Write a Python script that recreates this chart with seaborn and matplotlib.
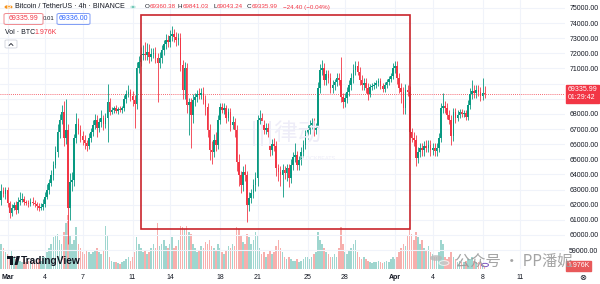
import numpy as np
import pandas as pd
import matplotlib
matplotlib.use("Agg")
import matplotlib.pyplot as plt
import matplotlib.transforms as mtrans
from matplotlib.patches import Rectangle, FancyBboxPatch, Circle, Polygon
from matplotlib.lines import Line2D
import seaborn as sns

# ---------------- data (BTC/USDT 4h) ----------------
first_open = 62300.0
closes_feb29_mar06 = [62900, 62700, 62950,
    62110, 61450, 61780, 61980, 61650, 62180,
    62310, 62380, 62180, 62110, 62050, 62180,
    62110, 62050, 61910, 61780, 61850, 62050,
    62510, 62970, 63430, 63960, 64620, 65480,
    66800, 67600, 68130, 66410, 66940, 61780,
    63500, 63630, 66400, 67330, 66940, 66540]
closes_mar07_mar13 = [66275, 66080, 65880, 66410, 66800, 67270,
    67600, 67070, 67460, 67730, 67330, 67730,
    68780, 68120, 68260, 68390, 68190, 68320,
    68260, 68390, 68980, 69310, 69450, 69180,
    68920, 68650, 71030, 71430, 71890, 71960,
    71890, 72090, 71760, 71960, 72020, 71690,
    71360, 71690, 72220, 72610, 72880, 72750]
closes_mar14_mar20 = [73140, 73280, 73080, 72880, 73010, 71230,
    69580, 71030, 68590, 68780, 67930, 68920,
    69110, 69310, 69250, 69380, 68920, 68450,
    66940, 65610, 65480, 66280, 65950, 67600,
    68450, 68260, 68390, 67730, 68120, 67270,
    67460, 66940, 64820, 63960, 63300, 64160,
    63960, 61980, 62440, 62770, 63300, 63760]
closes_mar21_mar27 = [67600, 67730, 67270, 66940, 67070, 66800,
    65610, 66010, 65880, 64420, 64160, 63960,
    64290, 64090, 64420, 63760, 64620, 65150,
    65280, 64620, 64950, 65480, 65950, 66610,
    66940, 67270, 67400, 66940, 67070, 69710,
    70900, 71030, 70240, 70630, 70370, 69710,
    69910, 70110, 70370, 70240, 69110, 68780]
closes_mar28_apr03 = [69050, 69450, 69910, 70370, 70900, 71160,
    70770, 70240, 69910, 70040, 69710, 69320,
    69780, 69840, 69910, 70040, 70170, 69840,
    69640, 69910, 70110, 70310, 70500, 71030,
    71160, 70370, 69710, 69450, 68390, 69580,
    69450, 66800, 66410, 66280, 65080, 65480,
    65750, 65610, 65880, 65750, 65950, 65610]
closes_apr04_apr08 = [65750, 65550, 65750, 66410, 68390, 68520,
    68390, 67930, 67600, 66540, 68120, 67730,
    67930, 68120, 67990, 68060, 67800, 68590,
    69310, 69510, 69380, 69580, 69450, 69180,
    69360.38, 69335.99]

wick_up_feb29_mar06 = [500, 300, 200, 200, 150, 300, 200, 250, 300,
    500, 400, 200, 150, 200, 250, 300, 200, 150, 200, 250, 300,
    300, 400, 250, 350, 300, 400, 500, 400, 460, 700, 2060, 400,
    600, 500, 300, 700, 400, 300]
wick_dn_feb29_mar06 = [300, 200, 300, 250, 300, 200, 150, 250, 200,
    200, 150, 200, 150, 200, 150, 150, 200, 250, 200, 150, 200,
    200, 150, 250, 200, 300, 200, 300, 400, 300, 500, 400, 2380,
    800, 600, 400, 300, 300, 400]
wick_up_mar07_mar13 = [300, 300, 200, 300, 250, 300, 400, 300, 250, 500, 200, 300,
    1220, 300, 200, 150, 200, 150, 200, 150, 300, 300, 450, 200,
    300, 300, 400, 400, 500, 600, 800, 600, 500, 400, 300, 400,
    300, 400, 300, 300, 400, 300]
wick_dn_mar07_mar13 = [300, 400, 300, 200, 300, 250, 300, 600, 250, 300, 400, 250,
    1590, 200, 150, 200, 150, 200, 150, 200, 200, 250, 200, 300,
    400, 1580, 300, 300, 300, 300, 300, 300, 400, 300, 300, 300,
    2580, 300, 300, 300, 300, 300]
wick_up_mar14_mar20 = [400, 500, 300, 300, 300, 300, 300, 400, 300, 300, 300, 400,
    300, 300, 400, 300, 400, 300, 300, 400, 600, 400, 500, 300,
    300, 300, 300, 200, 300, 300, 400, 300, 300, 500, 300, 400,
    500, 300, 400, 300, 400, 400]
wick_dn_mar14_mar20 = [300, 300, 300, 400, 300, 400, 600, 600, 500, 1980, 2180, 500,
    400, 300, 300, 300, 300, 500, 500, 660, 800, 300, 400, 300,
    300, 200, 300, 300, 200, 400, 300, 500, 600, 700, 500, 400,
    400, 1120, 400, 300, 300, 400]
wick_up_mar21_mar27 = [300, 500, 300, 300, 300, 300, 300, 300, 400, 300, 300, 400,
    400, 300, 300, 300, 400, 300, 800, 300, 300, 300, 300, 300,
    300, 300, 300, 300, 300, 400, 400, 530, 300, 300, 300, 300,
    300, 200, 300, 300, 1520, 300]
wick_dn_mar21_mar27 = [500, 300, 300, 300, 300, 300, 400, 300, 300, 500, 600, 700,
    1460, 400, 500, 600, 300, 300, 300, 300, 300, 300, 300, 300,
    300, 300, 300, 400, 300, 300, 300, 300, 300, 300, 300, 300,
    300, 300, 300, 300, 300, 400]
wick_up_mar28_apr03 = [300, 300, 300, 300, 400, 300, 300, 300, 300, 300, 300, 300,
    200, 200, 200, 200, 200, 200, 200, 200, 200, 200, 200, 300,
    300, 300, 300, 300, 300, 400, 300, 400, 300, 400, 300, 300,
    300, 300, 300, 400, 300, 300]
wick_dn_mar28_apr03 = [300, 300, 300, 300, 300, 300, 200, 300, 300, 300, 300, 400,
    200, 200, 200, 200, 200, 200, 200, 200, 200, 200, 200, 200,
    300, 400, 300, 700, 400, 400, 300, 300, 300, 400, 520, 300,
    300, 400, 400, 300, 300, 400]
wick_up_apr04_apr08 = [300, 300, 300, 300, 300, 860, 300, 300, 300, 300, 300, 300,
    300, 200, 200, 200, 200, 300, 400, 730, 400, 300, 300, 300,
    1010, 480.65]
wick_dn_apr04_apr08 = [300, 300, 300, 300, 300, 300, 300, 300, 300, 600, 300, 300,
    200, 200, 200, 200, 200, 200, 300, 300, 300, 300, 300, 300,
    280, 292.75]

vol_feb29_mar06 = [30, 25, 20, 18, 15, 22, 14, 12, 16, 10, 9, 12, 8, 10, 9,
    8, 10, 9, 12, 10, 14, 15, 20, 25, 30, 38, 40, 42, 35, 30, 45, 55, 65,
    40, 30, 35, 50, 30, 25]
vol_mar07_mar13 = [20, 18, 22, 20, 18, 20, 22, 25, 20, 18, 22, 52,
    40, 15, 10, 8, 9, 7, 6, 8, 10, 12, 14, 10, 15, 20, 38, 30, 25, 20,
    22, 18, 20, 25, 30, 25, 55, 28, 30, 35, 28, 25]
vol_mar14_mar20 = [30, 38, 25, 28, 35, 52, 50, 48, 52, 45, 42, 30,
    25, 20, 22, 28, 25, 32, 30, 35, 28, 25, 22, 30, 25, 20, 18, 22, 28, 25,
    30, 28, 50, 48, 40, 32, 30, 42, 38, 30, 35, 45]
vol_mar21_mar27 = [40, 25, 18, 20, 15, 18, 22, 18, 20, 28, 35, 25,
    20, 15, 12, 14, 12, 10, 10, 12, 9, 10, 12, 15, 15, 12, 14, 18, 20, 45,
    35, 30, 25, 20, 18, 15, 15, 18, 14, 25, 50, 30]
vol_mar28_apr03 = [20, 18, 22, 25, 30, 35, 20, 15, 12, 14, 12, 10,
    8, 7, 9, 8, 10, 8, 7, 9, 10, 8, 12, 14, 12, 15, 20, 25, 30, 28,
    40, 50, 42, 35, 45, 38, 30, 35, 25, 22, 28, 20]
vol_apr04_apr08 = [18, 15, 14, 20, 35, 30, 15, 12, 14, 20, 15, 12,
    8, 10, 9, 8, 10, 12, 12, 14, 10, 9, 8, 10, 6, 1.976]

tick_days = [0, 3, 6, 10, 13, 17, 20, 24, 27, 31, 34, 38, 41]
tick_labels = ['Mar', '4', '7', '11', '14', '18', '21', '25', '28', 'Apr', '4', '8', '11']
price_levels = list(range(59000, 75001, 1000))

# ---------------- assemble ----------------
close = np.array(closes_feb29_mar06 + closes_mar07_mar13 + closes_mar14_mar20 +
                 closes_mar21_mar27 + closes_mar28_apr03 + closes_apr04_apr08, float)
wup = np.array(wick_up_feb29_mar06 + wick_up_mar07_mar13 + wick_up_mar14_mar20 +
               wick_up_mar21_mar27 + wick_up_mar28_apr03 + wick_up_apr04_apr08, float)
wdn = np.array(wick_dn_feb29_mar06 + wick_dn_mar07_mar13 + wick_dn_mar14_mar20 +
               wick_dn_mar21_mar27 + wick_dn_mar28_apr03 + wick_dn_apr04_apr08, float)
vol = np.array(vol_feb29_mar06 + vol_mar07_mar13 + vol_mar14_mar20 +
               vol_mar21_mar27 + vol_mar28_apr03 + vol_apr04_apr08, float)
n = len(close)
opn = np.concatenate([[first_open], close[:-1]])
high = np.maximum(opn, close) + wup
low = np.minimum(opn, close) - wdn
times = pd.date_range("2024-02-29 12:00", periods=n, freq="4h")
t = ((times - pd.Timestamp("2024-03-01")) / pd.Timedelta(days=1)).to_numpy()
up = close >= opn
UP, DN = '#089981', '#f23645'
cols = np.where(up, UP, DN)

df = pd.DataFrame({'t': t, 'vol': vol, 'dir': np.where(up, 'up', 'down')})

# ---------------- figure ----------------
sns.set_theme(style="white")
plt.rcParams['font.family'] = ['Liberation Sans', 'Noto Sans CJK SC', 'DejaVu Sans']
W, H = 600, 284
fig = plt.figure(figsize=(6, 2.84), dpi=100, facecolor='white')

def P(x, y):
    return (x / W, 1 - y / H)

BOT = 269.0
RIGHT = 565.0
ax = fig.add_axes([0, 1 - BOT / H, RIGHT / W, BOT / H])
vax = ax.twinx()
vax.set_zorder(ax.get_zorder() - 1)
ax.patch.set_visible(False)
vax.patch.set_facecolor('white')

# volume (seaborn)
sns.barplot(data=df, x='t', y='vol', hue='dir', native_scale=True, dodge=False,
            palette={'up': '#9fd6cf', 'down': '#f7afad'}, width=0.75, saturation=1,
            errorbar=None, legend=False, linewidth=0, ax=vax)
vax.set_ylim(0, BOT * 1.2)
vax.set_yticks([])
vax.set_ylabel('')
vax.set_xlabel('')

# candles
ax.vlines(t, low, high, colors=cols, linewidth=0.6, zorder=3)
body_h = np.maximum(np.abs(close - opn), 70)
ax.bar(t, body_h, bottom=np.minimum(opn, close), width=0.74 / 6, color=cols,
       linewidth=0, zorder=4)

x0 = (0 - 7.5) / 12.5
x1 = (RIGHT - 7.5) / 12.5
ax.set_xlim(x0, x1)
ax.set_ylim(75000 - (BOT - 7.9) / 15.14 * 1000, 75000 + 7.9 / 15.14 * 1000)

for a in (ax, vax):
    for s in a.spines.values():
        s.set_visible(False)

last = close[-1]
ax.set_yticks(price_levels)
# the label nearest the live price sits under the price tag, as in the reference
ax.set_yticklabels(["" if abs(v - last) < 700 else f"{v:.2f}" for v in price_levels])
ax.yaxis.tick_right()
ax.tick_params(axis='y', length=0, pad=3, labelsize=5, labelcolor='#131722')
ax.set_xticks(tick_days)
ax.set_xticklabels(tick_labels)
ax.tick_params(axis='x', length=0, pad=3.5, labelsize=5, labelcolor='#131722')
for lbl in ax.get_xticklabels():
    if lbl.get_text() in ('Mar', 'Apr'):
        lbl.set_fontweight('bold')
ax.grid(True, color='#f0f3fa', linewidth=0.8, zorder=0)
ax.set_axisbelow(True)

# current price line and tag
ax.axhline(last, color=DN, linestyle=(0, (1, 1.5)), linewidth=0.6, zorder=2)
blend = mtrans.blended_transform_factory(ax.transAxes, ax.transData)
ax.text(1 + 2.5 / RIGHT, last, f"{last:.2f}\n01:29:42", transform=blend, ha='left',
        va='center', fontsize=5, color='white', linespacing=1.15, clip_on=False,
        bbox=dict(boxstyle='square,pad=0.25', fc=DN, ec=DN), zorder=10)
vblend = mtrans.blended_transform_factory(vax.transAxes, vax.transData)
vax.text(1 + 2.5 / RIGHT, vol[-1] + 2, f"{vol[-1]:.3f}K", transform=vblend, ha='left',
         va='center', fontsize=5, color='white', clip_on=False,
         bbox=dict(boxstyle='square,pad=0.2', fc='#e8595a', ec='#e8595a'), zorder=10)

# highlight rectangle
fig.patches.append(Rectangle(P(141, 229), (410 - 141) / W, (229 - 15) / H,
                             transform=fig.transFigure, fill=False, ec='#c9252c',
                             lw=1.2, zorder=20))

# faint center watermark
fig.text(*P(250, 133), "|||律动", fontsize=17, color='#eeedf8', va='center',
         ha='left', family=['DejaVu Sans', 'Noto Sans CJK SC'], zorder=1)
fig.text(*P(300, 158), "BLOCKBEATS", fontsize=4, color='#eeedf8', va='center',
         ha='left', zorder=1)

# header
fig.patches.append(Circle(P(8.5, 7), 4 / W, transform=fig.transFigure, fc='#f7931a',
                          ec='none', zorder=20))
fig.text(*P(8.6, 7.2), "B", fontsize=4.3, color='white', ha='center', va='center',
         weight='bold', zorder=21)
fig.text(*P(15, 7), "Bitcoin / TetherUS · 4h · BINANCE", fontsize=5.1,
         color='#131722', va='center', ha='left')
fig.patches.append(Circle(P(133, 7), 2.2 / W, transform=fig.transFigure, fc=UP,
                          ec='#cdeee6', lw=0.8, zorder=20))
ohlc = [("O", 145, '#131722'), ("69360.38", 149.5, DN), ("H", 178, '#131722'),
        ("69841.03", 182.5, DN), ("L", 213, '#131722'), ("69043.24", 216.5, DN),
        ("C", 247, '#131722'), ("69335.99", 251.5, DN), ("−24.40 (−0.04%)", 283, DN)]
for s, x, c in ohlc:
    fig.text(*P(x, 7), s, fontsize=4.5, color=c, va='center', ha='left',
             family=['Liberation Sans', 'DejaVu Sans'])

fig.patches.append(FancyBboxPatch(P(4, 24.5), 39 / W, 11 / H,
                                  boxstyle='round,pad=0,rounding_size=0.004',
                                  transform=fig.transFigure, fill=False, ec='#f08a8f',
                                  lw=0.7, zorder=20))
fig.text(*P(23.5, 19), "69335.99", fontsize=5, color=DN, ha='center', va='center')
fig.text(*P(48.5, 19), "0.01", fontsize=4.3, color='#131722', ha='center', va='center')
fig.patches.append(FancyBboxPatch(P(57, 24.5), 33 / W, 11 / H,
                                  boxstyle='round,pad=0,rounding_size=0.004',
                                  transform=fig.transFigure, fill=False, ec='#7f9cf5',
                                  lw=0.7, zorder=20))
fig.text(*P(73.5, 19), "69336.00", fontsize=5, color='#2962ff', ha='center', va='center')
fig.text(*P(5, 33), "Vol · BTC", fontsize=5, color='#131722', ha='left', va='center')
fig.text(*P(34, 33), "1.976K", fontsize=5, color=DN, ha='left', va='center')
fig.patches.append(FancyBboxPatch(P(5, 48), 12 / W, 8 / H,
                                  boxstyle='round,pad=0,rounding_size=0.003',
                                  transform=fig.transFigure, fill=False, ec='#d1d4dc',
                                  lw=0.6, zorder=20))
fig.lines.append(Line2D([9 / W, 11 / W, 13 / W], [1 - 45.5 / H, 1 - 43.5 / H, 1 - 45.5 / H],
                        transform=fig.transFigure, color='#131722', lw=0.6))

# TradingView logo
fig.patches.append(Polygon([P(7, 256), P(12.5, 256), P(12.5, 265), P(10, 265), P(10, 258.5), P(7, 258.5)],
                           closed=True, transform=fig.transFigure, fc='#131722', ec='none', zorder=20))
fig.patches.append(Circle(P(14.5, 257.3), 1.3 / W, transform=fig.transFigure, fc='#131722',
                          ec='none', zorder=20))
fig.patches.append(Polygon([P(16.5, 256), P(20, 256), P(17.5, 265), P(14.5, 265)],
                           closed=True, transform=fig.transFigure, fc='#131722', ec='none', zorder=20))
fig.text(*P(21, 260.5), "TradingView", fontsize=7.3, weight='bold', color='#131722',
         ha='left', va='center', zorder=20)

# small icon near last candle
fig.patches.append(Circle(P(485, 265), 3.5 / W, transform=fig.transFigure, fc='white',
                          ec='#7e57c2', lw=0.7, zorder=20))

# settings icon
fig.text(*P(583, 277), "⊗", fontsize=6, color='#131722', ha='center', va='center',
         family=['DejaVu Sans'])

# WeChat-like watermark
fig.patches.append(Circle(P(436, 258), 6 / W, transform=fig.transFigure, fc='#b8b8b8',
                          ec='none', alpha=0.8, zorder=22))
fig.patches.append(Circle(P(444, 263), 5 / W, transform=fig.transFigure, fc='#c8c8c8',
                          ec='white', lw=0.6, alpha=0.85, zorder=22))
fig.text(*P(455, 261), "公众号 · PP潘妮", fontsize=11, color='#9a9a9a', alpha=0.9,
         ha='left', va='center', family=['Noto Sans CJK SC', 'DejaVu Sans'], zorder=23)

fig.savefig("out.png", dpi=100, facecolor='white')
